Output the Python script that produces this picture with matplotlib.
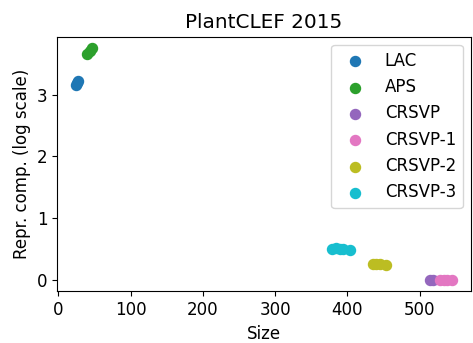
import matplotlib
matplotlib.use("Agg")
import matplotlib.pyplot as plt

plt.rcParams['font.size'] = 12

labels = ["LAC", "APS", "CRSVP", "CRSVP-1", "CRSVP-2", "CRSVP-3"]
colors = ["#1f77b4", "#2ca02c", "#9467bd", "#e377c2", "#bcbd22", "#17becf"]

lac_x = [24, 26, 27]
lac_y = [3.15, 3.19, 3.22]
aps_x = [40, 43, 46]
aps_y = [3.65, 3.70, 3.75]
crsvp_x = [514, 518]
crsvp_y = [0.0, 0.0]
crsvp1_x = [528, 533, 538, 545]
crsvp1_y = [0.0, 0.0, 0.0, 0.0]
crsvp2_x = [435, 440, 445, 453]
crsvp2_y = [0.26, 0.25, 0.25, 0.24]
crsvp3_x = [378, 384, 390, 394, 404]
crsvp3_y = [0.50, 0.51, 0.50, 0.49, 0.48]

xs = [lac_x, aps_x, crsvp_x, crsvp1_x, crsvp2_x, crsvp3_x]
ys = [lac_y, aps_y, crsvp_y, crsvp1_y, crsvp2_y, crsvp3_y]

fig = plt.figure(figsize=(4.73, 3.43), dpi=100)
ax = fig.add_axes([0.1205, 0.1507, 0.8753, 0.7423])
for x, y, c, l in zip(xs, ys, colors, labels):
    ax.scatter(x, y, s=52, color=c, label=l)

ax.set_title("PlantCLEF 2015")
ax.set_xlabel("Size")
ax.set_ylabel("Repr. comp. (log scale)")
ax.set_xticks([0, 100, 200, 300, 400, 500])
ax.set_yticks([0, 1, 2, 3])
ax.legend(loc="upper right")
fig.savefig("out.png", dpi=100)
